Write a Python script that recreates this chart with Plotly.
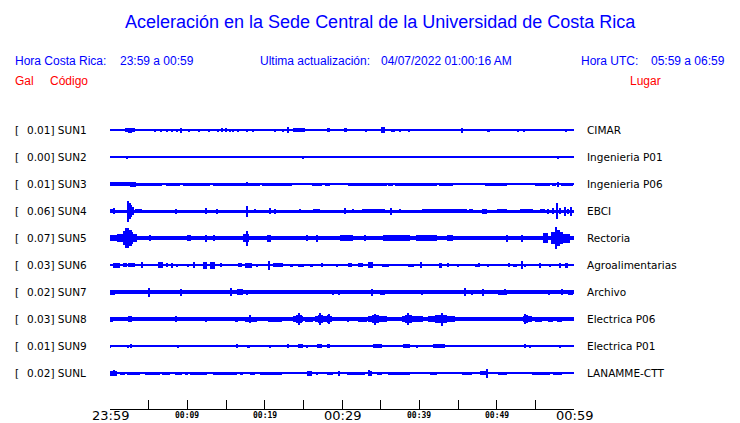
import plotly.graph_objects as go

# ---------------- data ----------------
stations = ["SUN1", "SUN2", "SUN3", "SUN4", "SUN5", "SUN6", "SUN7", "SUN8", "SUN9", "SUNL"]
peaks = ["0.01", "0.00", "0.01", "0.06", "0.07", "0.03", "0.02", "0.03", "0.01", "0.02"]
places = ["CIMAR", "Ingenieria P01", "Ingenieria P06", "EBCI", "Rectoria",
          "Agroalimentarias", "Archivo", "Electrica P06", "Electrica P01", "LANAMME-CTT"]

# half-amplitude of the background noise band of each record
base_half = [0.5, 0.5, 0.5, 1.5, 2.0, 0.5, 1.7, 1.6, 0.5, 0.5]

# bursts per record: [start minute, end minute, half amplitude]  (minutes after 23:59)
sun1 = [[0.4, 0.4, 1], [0.9, 0.9, 1], [1.9, 2.3, 2], [2.3, 2.9, 2.5], [2.9, 3.2, 2], [5.9, 5.9, 1.5],
        [6.6, 6.6, 1.5], [7.4, 7.4, 1.5], [8.0, 8.0, 1.5], [8.7, 8.7, 1.5], [9.0, 9.3, 2.5],
        [10.2, 10.2, 1.5], [11.5, 11.5, 1.5], [12.8, 12.8, 1.5], [14.0, 14.0, 1.5], [14.5, 14.5, 2],
        [15.0, 15.0, 2], [15.5, 15.5, 1.5], [15.9, 15.9, 1.5], [16.6, 16.6, 1.5], [17.1, 17.1, 1],
        [17.7, 17.7, 1.5], [18.5, 18.5, 1.5], [19.9, 19.9, 1], [21.3, 21.3, 1.5], [22.4, 22.4, 1.5],
        [23.0, 23.2, 3], [23.7, 25.2, 1.8], [25.6, 25.6, 1.2], [26.4, 26.4, 1], [28.0, 28.4, 2],
        [30.2, 30.6, 2], [31.4, 31.4, 1], [32.3, 32.3, 1], [33.1, 33.1, 1.5], [34.0, 34.0, 1],
        [34.7, 34.7, 1], [35.1, 35.5, 3], [36.4, 36.8, 1.5], [37.5, 37.5, 1.5], [38.7, 38.7, 1.5],
        [40.3, 40.3, 1], [42.7, 42.7, 1], [43.1, 43.1, 1], [44.0, 44.0, 1], [45.4, 45.6, 2.5],
        [45.9, 45.9, 1], [47.1, 47.1, 1], [48.7, 49.1, 1.5], [52.1, 52.1, 1], [52.8, 52.8, 1.5],
        [53.1, 53.1, 1], [53.5, 53.5, 1.5], [54.3, 54.3, 1], [56.4, 56.4, 1], [59.0, 59.0, 1.5],
        [59.9, 59.9, 1]]
sun2 = [[2.2, 2.2, 1.5], [25.0, 25.0, 1.5], [57.9, 57.9, 1.5]]
sun3 = [[0.0, 2.6, 1.6], [2.6, 3.4, 2.5], [3.4, 6.7, 1.5], [7.2, 9.0, 1.5], [9.4, 12.9, 1.5],
        [13.3, 16.8, 1.5], [17.7, 17.7, 2], [16.8, 19.4, 1.5], [19.7, 23.5, 1.5], [24.3, 24.3, 1],
        [25.0, 25.0, 1.2], [25.5, 25.5, 1], [26.1, 27.4, 1.5], [27.8, 28.4, 1.5], [29.0, 29.0, 1],
        [29.5, 29.5, 1], [30.8, 35.8, 1.5], [36.0, 36.6, 1.5], [36.9, 41.0, 1.5], [41.0, 42.3, 1.5],
        [42.6, 44.4, 1.5], [45.2, 45.2, 1], [45.8, 45.8, 1], [47.3, 47.3, 1], [47.8, 47.8, 1],
        [48.5, 51.3, 1.5], [51.8, 51.8, 1], [52.4, 52.4, 1], [53.9, 53.9, 1], [55.0, 56.9, 1.5],
        [57.2, 57.7, 1.5], [57.9, 57.9, 2.5], [58.3, 59.9, 1.5]]
sun4 = [[0.0, 0.4, 2.2], [0.6, 0.6, 3], [2.2, 2.4, 10.5], [2.5, 2.7, 8], [2.7, 2.9, 6], [2.9, 3.1, 4],
        [3.2, 4.1, 2.3], [8.6, 8.6, 2.5], [12.5, 12.5, 3], [13.8, 13.8, 2.5], [17.8, 17.8, 5.5],
        [18.8, 18.8, 2], [20.7, 20.7, 3], [21.3, 21.3, 2.5], [24.6, 24.6, 2], [26.3, 27.2, 2],
        [30.4, 30.4, 3], [31.4, 31.4, 2], [32.6, 35.6, 2], [36.4, 36.4, 3.5], [37.5, 37.5, 2],
        [40.3, 46.2, 2], [46.4, 47.0, 2], [48.1, 48.8, 2.5], [50.0, 51.3, 2], [53.0, 54.7, 2],
        [55.6, 56.3, 2], [56.6, 56.6, 2.5], [57.3, 57.3, 3], [57.8, 57.9, 8], [58.2, 58.2, 3],
        [58.8, 59.0, 4.5], [59.1, 59.4, 2.5], [59.5, 59.7, 4.5]]
sun5 = [[0.0, 0.9, 3], [0.9, 1.7, 4], [1.7, 2.0, 7], [2.0, 2.4, 10], [2.4, 2.8, 8], [2.8, 3.0, 6],
        [3.0, 3.5, 4], [5.2, 5.2, 3], [10.0, 10.5, 3], [12.5, 12.5, 3.5], [13.5, 13.5, 3],
        [17.2, 18.0, 4], [17.7, 17.7, 7.5], [20.3, 20.8, 3.5], [25.5, 25.5, 3], [26.8, 26.8, 3.5],
        [29.7, 31.4, 3], [33.0, 33.0, 3], [35.3, 38.8, 3], [39.6, 42.3, 3], [43.6, 44.4, 3],
        [51.3, 51.3, 3.5], [53.3, 53.3, 3.5], [56.0, 56.6, 5], [57.0, 57.5, 6], [57.5, 57.8, 11],
        [57.8, 58.2, 8], [58.2, 58.6, 6], [58.6, 59.5, 4.5]]
sun6 = [[0.0, 0.4, 1], [0.4, 1.3, 2.5], [1.7, 2.2, 2], [2.3, 3.2, 2], [4.1, 4.3, 3], [6.2, 6.9, 3],
        [7.4, 7.5, 2], [8.0, 8.1, 2.5], [8.7, 8.8, 1.5], [10.1, 10.1, 1.5], [10.7, 11.0, 3],
        [12.0, 12.5, 3.5], [12.9, 13.6, 3.5], [14.2, 14.5, 2], [16.6, 17.1, 2], [17.5, 18.4, 2.5],
        [19.0, 19.0, 1.5], [20.4, 20.7, 4.5], [21.1, 22.4, 2], [23.3, 23.7, 1.5], [24.3, 25.1, 1.5],
        [25.9, 26.3, 1.5], [27.4, 27.5, 2], [29.4, 29.4, 1.5], [30.8, 31.3, 2], [32.1, 32.7, 2],
        [33.4, 34.0, 3], [35.2, 36.1, 1.5], [36.5, 36.5, 1], [38.5, 39.1, 1.5], [39.2, 39.2, 1.5],
        [40.1, 40.3, 3], [42.6, 42.9, 2.5], [43.6, 43.8, 2], [45.0, 45.0, 1.5], [47.2, 47.6, 1.5],
        [47.8, 47.8, 2], [48.9, 48.9, 1.5], [51.5, 51.7, 2], [52.1, 52.6, 1.5], [53.3, 53.3, 4],
        [53.7, 53.7, 1.5], [55.6, 55.6, 2.5], [56.9, 56.9, 1.5], [57.8, 57.8, 1], [58.2, 58.2, 2.5],
        [58.8, 59.2, 2.5]]
sun7 = [[0.0, 0.6, 2.5], [5.1, 5.1, 4.5], [9.1, 9.3, 3.5], [10.0, 10.0, 2], [15.5, 15.8, 4],
        [16.4, 17.2, 3], [17.7, 17.7, 2.5], [21.1, 21.1, 2], [24.8, 24.8, 2], [28.8, 28.8, 2.5],
        [29.7, 29.7, 2.5], [33.9, 33.9, 3.5], [34.9, 35.6, 2.5], [40.4, 40.4, 2.5], [45.9, 45.9, 4],
        [46.8, 46.9, 2.5], [48.2, 48.2, 3.5], [50.2, 51.3, 2.5], [51.1, 51.1, 3], [52.1, 52.6, 2],
        [53.9, 54.3, 2], [56.8, 56.8, 2.5], [58.5, 58.5, 3], [59.2, 59.9, 2.5]]
sun8 = [[0.0, 0.4, 2.5], [1.3, 1.6, 2], [2.3, 2.8, 3], [7.8, 8.0, 2], [8.5, 8.5, 3], [9.3, 10.3, 2],
        [11.3, 11.4, 2], [12.4, 12.4, 2.5], [14.5, 14.5, 2], [15.3, 15.5, 2], [16.2, 16.6, 2.5],
        [17.5, 19.0, 2.5], [18.1, 18.1, 4], [19.4, 20.0, 2.2], [20.4, 22.2, 2.5], [22.6, 23.5, 2.2],
        [23.7, 25.0, 3], [24.1, 24.8, 4], [24.4, 24.4, 6], [25.2, 26.3, 2.5], [26.5, 28.7, 3],
        [26.9, 27.6, 4], [27.2, 27.2, 6], [28.1, 28.5, 4], [28.4, 28.4, 5], [29.7, 30.6, 2],
        [30.8, 30.8, 2.5], [32.1, 33.2, 2.5], [33.4, 35.8, 3], [33.9, 34.8, 4], [34.3, 34.3, 5.5],
        [37.8, 40.5, 3], [38.2, 39.1, 4], [38.5, 38.5, 6], [41.1, 44.6, 3], [42.0, 43.6, 4],
        [42.9, 42.9, 6.5], [45.9, 46.6, 2], [52.1, 52.1, 2], [53.4, 54.6, 3], [53.5, 54.0, 4],
        [53.7, 53.7, 5], [55.0, 55.9, 2.5], [56.6, 57.3, 2.5], [57.8, 58.5, 2.5]]
sun9 = [[0.0, 0.0, 1.5], [2.3, 2.3, 1.5], [2.8, 2.8, 2], [4.3, 4.3, 1], [8.7, 8.9, 1.5],
        [16.4, 16.4, 2], [17.7, 18.1, 1.5], [20.7, 20.7, 1.5], [21.1, 21.1, 1], [23.0, 23.0, 2],
        [24.3, 25.0, 2], [25.5, 25.5, 1.5], [26.8, 27.4, 2], [28.1, 28.4, 2], [31.9, 31.9, 1],
        [33.2, 33.2, 1], [34.0, 35.2, 2], [35.6, 35.6, 1], [37.9, 38.8, 2], [39.7, 39.7, 1.5],
        [41.8, 43.3, 2], [53.7, 53.7, 2], [54.3, 54.3, 1.5], [58.2, 58.2, 1.5], [59.2, 59.2, 1]]
sunl = [[0.0, 0.9, 2.5], [0.5, 0.5, 3], [1.3, 1.9, 1.5], [2.2, 3.9, 1.5], [4.5, 6.5, 1.5],
        [6.7, 7.8, 1.5], [8.4, 9.3, 1.5], [9.7, 10.1, 1.5], [10.3, 12.5, 1.5], [13.3, 16.4, 1.5],
        [16.8, 17.2, 1.5], [18.1, 18.8, 1.5], [19.4, 22.2, 1.5], [23.5, 24.3, 1], [25.5, 26.1, 2.5],
        [26.8, 26.9, 1.5], [28.1, 28.8, 1.5], [29.5, 29.7, 2.5], [30.6, 31.0, 1.5], [31.0, 31.9, 1.5],
        [31.9, 33.0, 1.5], [33.4, 33.9, 2.5], [33.5, 33.5, 3], [34.5, 35.2, 1.5], [35.9, 38.8, 1.5],
        [39.2, 39.7, 1], [41.4, 42.3, 1.5], [44.0, 44.6, 1], [45.5, 46.8, 1.5], [47.8, 48.8, 2],
        [48.8, 48.8, 4.5], [50.2, 51.3, 1.5], [52.6, 52.6, 1], [54.6, 56.9, 1.5], [57.3, 58.5, 1.5]]
events = [sun1, sun2, sun3, sun4, sun5, sun6, sun7, sun8, sun9, sunl]

tick_minutes = list(range(0, 61, 5))
major_ticks = [0, 30, 60]
major_labels = ["23:59", "00:29", "00:59"]
minor_ticks = [10, 20, 40, 50]
minor_labels = ["00:09", "00:19", "00:39", "00:49"]

# ---------------- figure ----------------
W, H = 740, 423
BLUE = "#0000ff"
RED = "#ff0000"
SPACING = 27
TOP_CENTER = 279  # y (data) of first record, axis range is 0..299

fig = go.Figure()
for i, evs in enumerate(events):
    c = TOP_CENTER - SPACING * i
    xs = [30]
    ws = [60]
    bs = [c - base_half[i]]
    hs = [2 * base_half[i]]
    for t0, t1, a in evs:
        xs.append((t0 + t1) / 2)
        ws.append(max(t1 - t0, 0.18))
        bs.append(c - a)
        hs.append(2 * a)
    fig.add_trace(go.Bar(x=xs, y=hs, base=bs, width=ws, marker=dict(color=BLUE, line=dict(width=0)),
                         hoverinfo="skip", showlegend=False))

def px_x(p):
    return p / W

def px_y(p):
    return 1 - p / H

ann = []
def text(x, y, s, size, color="black", family="DejaVu Sans", xanchor="left"):
    ann.append(dict(x=px_x(x), y=px_y(y), xref="paper", yref="paper", text=s, showarrow=False,
                    xanchor=xanchor, yanchor="middle", borderpad=0, borderwidth=0,
                    font=dict(size=size, color=color, family=family)))

ARIAL = "Liberation Sans, Arial"
text(381, 22, "Aceleración en la Sede Central de la Universidad de Costa Rica", 18, BLUE, ARIAL, "center")
text(15, 61, "Hora Costa Rica:", 12, BLUE, ARIAL)
text(120, 61, "23:59 a 00:59", 12, BLUE, ARIAL)
text(260, 61, "Ultima actualización:", 12, BLUE, ARIAL)
text(381, 61, "04/07/2022 01:00:16 AM", 12, BLUE, ARIAL)
text(581, 61, "Hora UTC:", 12, BLUE, ARIAL)
text(651, 61, "05:59 a 06:59", 12, BLUE, ARIAL)
text(15, 81, "Gal", 12, RED, ARIAL)
text(50, 81, "Código", 12, RED, ARIAL)
text(630, 81, "Lugar", 12, RED, ARIAL)

for i in range(len(stations)):
    yc = 130 + SPACING * i
    text(15, yc, "[", 10.5)
    text(27, yc, f"{peaks[i]}] {stations[i]}", 10.5)
    text(587, yc, places[i], 10.5)

for t, s in zip(major_ticks, major_labels):
    ann.append(dict(x=t, y=px_y(415.5), xref="x", yref="paper", text=s, showarrow=False,
                    xanchor="center", yanchor="middle", borderpad=0, borderwidth=0,
                    font=dict(size=13, color="black", family="DejaVu Sans")))
for t, s in zip(minor_ticks, minor_labels):
    ann.append(dict(x=t, y=px_y(415.5), xref="x", yref="paper", text=s, showarrow=False,
                    xanchor="center", yanchor="middle", borderpad=0, borderwidth=0,
                    font=dict(size=8, color="black", family="DejaVu Sans Mono", weight="bold")))

fig.update_layout(
    width=W, height=H, margin=dict(l=0, r=0, t=0, b=0),
    paper_bgcolor="white", plot_bgcolor="white",
    barmode="overlay", bargap=0,
    annotations=ann,
    xaxis=dict(domain=[110 / W, 574 / W], range=[0, 60], showgrid=False, zeroline=False,
               showline=True, linecolor="black", linewidth=1, ticks="inside", ticklen=9,
               tickcolor="black", tickwidth=1, tickvals=tick_minutes, showticklabels=False,
               fixedrange=True),
    yaxis=dict(domain=[(H - 409) / H, (H - 110) / H], range=[0, 299], visible=False,
               fixedrange=True),
)

fig.write_html("out.html", config={"displayModeBar": False},
               post_script="document.body.style.margin='0';document.body.style.overflow='hidden';")
